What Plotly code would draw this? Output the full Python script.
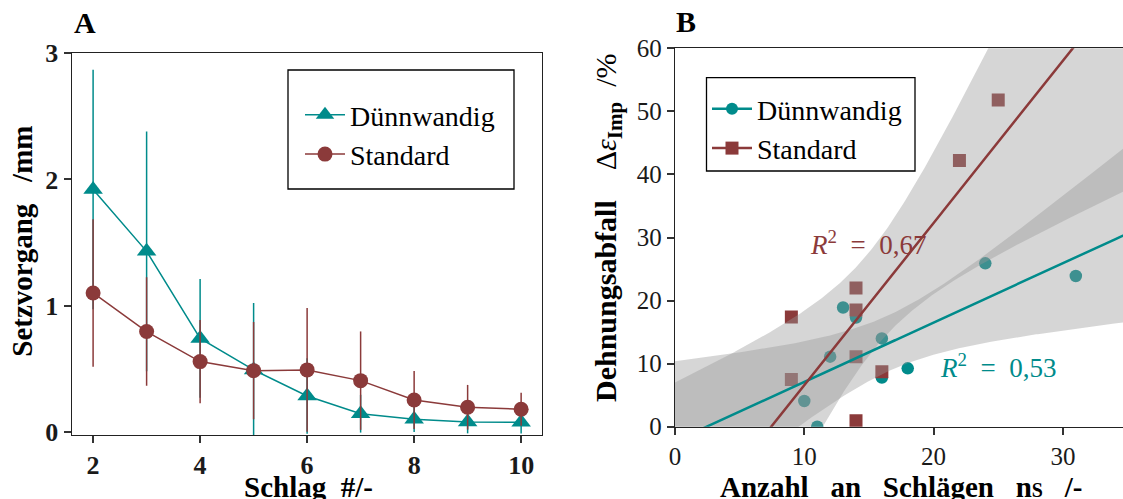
import numpy as np
import plotly.graph_objects as go

# ---------------- data ----------------
schlag = [2, 3, 4, 5, 6, 7, 8, 9, 10]
duenn_mean = [1.92, 1.43, 0.74, 0.49, 0.283, 0.143, 0.098, 0.077, 0.075]
duenn_sd = [0.95, 0.95, 0.47, 0.53, 0.30, 0.15, 0.10, 0.09, 0.09]
std_mean = [1.10, 0.794, 0.556, 0.484, 0.49, 0.405, 0.252, 0.194, 0.178]
std_sd = [0.585, 0.43, 0.33, 0.385, 0.49, 0.39, 0.23, 0.177, 0.13]

duenn_n = [10, 11, 12, 13, 14, 16, 16, 18, 24, 31]
duenn_d = [4.07, 0.0, 11.1, 18.9, 17.3, 14.0, 7.8, 9.25, 25.9, 23.9]
std_n = [9, 9, 14, 14, 14, 14, 16, 22, 25]
std_d = [17.4, 7.5, 22.0, 18.5, 11.1, 0.95, 8.7, 42.2, 51.8]

series_names = ["Dünnwandig", "Standard"]
ticks_a_x = [2, 4, 6, 8, 10]
ticks_a_y = [0, 1, 2, 3]
ticks_b_x = [0, 10, 20, 30]
ticks_b_y = [0, 10, 20, 30, 40, 50, 60]

# Student t quantiles (0.975) for df = n-2
T_DUENN = 2.306004
T_STD = 2.364624

TEAL = "#008B8B"
RED = "#8B3A3A"
BAND = "rgba(153,153,153,0.4)"
FONT = "Liberation Serif, Times New Roman, serif"
W, H = 1123, 499


def px_x(p):
    return p / W


def px_y(p):
    return 1 - p / H


def fit(x, y, t):
    x = np.asarray(x, float)
    y = np.asarray(y, float)
    b, a = np.polyfit(x, y, 1)
    n = len(x)
    xm = x.mean()
    res = y - (a + b * x)
    s = np.sqrt((res ** 2).sum() / (n - 2))
    sxx = ((x - xm) ** 2).sum()
    xg = np.linspace(0, 36, 300)
    yg = a + b * xg
    hw = t * s * np.sqrt(1 / n + (xg - xm) ** 2 / sxx)
    r2 = 1 - (res ** 2).sum() / ((y - y.mean()) ** 2).sum()
    return xg, yg, yg - hw, yg + hw, r2


fig = go.Figure()

# ---------------- panel A ----------------
fig.add_trace(go.Scatter(
    x=schlag, y=duenn_mean, mode="lines+markers", name=series_names[0],
    line=dict(color=TEAL, width=1.5),
    marker=dict(symbol="triangle-up", size=17, color=TEAL),
    error_y=dict(type="data", array=duenn_sd, color=TEAL, thickness=1.5, width=0),
    xaxis="x", yaxis="y", legend="legend", cliponaxis=False,
))
fig.add_trace(go.Scatter(
    x=schlag, y=std_mean, mode="lines+markers", name=series_names[1],
    line=dict(color=RED, width=1.5),
    marker=dict(symbol="circle", size=15, color=RED),
    error_y=dict(type="data", array=std_sd, color=RED, thickness=1.5, width=0),
    xaxis="x", yaxis="y", legend="legend", cliponaxis=False,
))

# ---------------- panel B ----------------
fig.add_trace(go.Scatter(
    x=duenn_n, y=duenn_d, mode="markers", showlegend=False,
    marker=dict(symbol="circle", size=12.5, color=TEAL),
    xaxis="x2", yaxis="y2",
))
fig.add_trace(go.Scatter(
    x=std_n, y=std_d, mode="markers", showlegend=False,
    marker=dict(symbol="square", size=13, color=RED),
    xaxis="x2", yaxis="y2",
))

fits = [fit(duenn_n, duenn_d, T_DUENN), fit(std_n, std_d, T_STD)]
for (xg, yg, lo, hi, r2) in fits:
    fig.add_trace(go.Scatter(x=xg, y=lo, mode="lines", line=dict(width=0),
                             showlegend=False, hoverinfo="skip",
                             xaxis="x2", yaxis="y2"))
    fig.add_trace(go.Scatter(x=xg, y=hi, mode="lines", line=dict(width=0),
                             fill="tonexty", fillcolor=BAND, showlegend=False,
                             hoverinfo="skip", xaxis="x2", yaxis="y2"))
for (xg, yg, lo, hi, r2), col in zip(fits, [TEAL, RED]):
    fig.add_trace(go.Scatter(x=xg, y=yg, mode="lines", line=dict(color=col, width=2.5),
                             showlegend=False, xaxis="x2", yaxis="y2"))

# legend-only entries for panel B
fig.add_trace(go.Scatter(x=[None], y=[None], mode="lines+markers", name=series_names[0],
                         line=dict(color=TEAL, width=2.5),
                         marker=dict(symbol="circle", size=12, color=TEAL),
                         xaxis="x2", yaxis="y2", legend="legend2"))
fig.add_trace(go.Scatter(x=[None], y=[None], mode="lines+markers", name=series_names[1],
                         line=dict(color=RED, width=2.5),
                         marker=dict(symbol="square", size=13, color=RED),
                         xaxis="x2", yaxis="y2", legend="legend2"))

axis_common = dict(showgrid=False, zeroline=False, showline=True, linecolor="#222",
                   linewidth=1.4, ticks="outside", ticklen=7, tickwidth=2,
                   tickcolor="#333", automargin=False)

legend_common = dict(xanchor="left", yanchor="top", bgcolor="rgba(0,0,0,0)",
                     borderwidth=0, traceorder="normal", itemwidth=40,
                     font=dict(family=FONT, size=28, color="black"))

fig.update_layout(
    width=W, height=H, autosize=False,
    margin=dict(l=0, r=0, t=0, b=0, pad=0),
    paper_bgcolor="white", plot_bgcolor="white",
    font=dict(family=FONT, color="black"),
    xaxis=dict(domain=[px_x(71.7), px_x(542)], range=[1.6, 10.39], tickvals=ticks_a_x,
               mirror=True, anchor="y",
               tickfont=dict(family=FONT, size=26, weight="bold", color="#1a1a1a"),
               **axis_common),
    yaxis=dict(domain=[px_y(435), px_y(53.3)], range=[-0.026, 3.0], tickvals=ticks_a_y,
               mirror=True, anchor="x",
               tickfont=dict(family=FONT, size=26, weight="bold", color="#1a1a1a"),
               **axis_common),
    xaxis2=dict(domain=[px_x(675), 1.0], range=[0, 34.65], tickvals=ticks_b_x,
                mirror=True, anchor="y2",
                tickfont=dict(family=FONT, size=25, color="#1a1a1a"),
                **axis_common),
    yaxis2=dict(domain=[px_y(426.7), px_y(48.3)], range=[0, 60], tickvals=ticks_b_y,
                anchor="x2",
                tickfont=dict(family=FONT, size=25, color="#1a1a1a"),
                **axis_common),
    legend=dict(x=px_x(300), y=px_y(90), **legend_common),
    legend2=dict(x=px_x(707), y=px_y(84), **legend_common),
)

# legend frames
for (x0, y0, x1, y1) in [(288, 70, 514, 189), (706.5, 77.7, 915, 171)]:
    fig.add_shape(type="rect", xref="paper", yref="paper",
                  x0=px_x(x0), x1=px_x(x1), y0=px_y(y1), y1=px_y(y0),
                  line=dict(color="black", width=1.3), fillcolor="white", layer="above")

r2_duenn = f"{fits[0][4]:.2f}".replace(".", ",")
r2_std = f"{fits[1][4]:.2f}".replace(".", ",")
NB = "\u00a0"
SUB_S = '<span style="font-size:20px">S</span>'

annots = [
    dict(text="<b>A</b>", x=px_x(85), y=px_y(22), size=30, color="black"),
    dict(text="<b>B</b>", x=px_x(686), y=px_y(21), size=30, color="black"),
    dict(text=f"<b>Schlag{NB}{NB}#/-</b>", x=px_x(308), y=px_y(487), size=29, color="black"),
    dict(text=f"<b>Setzvorgang{NB}{NB}{NB}/mm</b>", x=px_x(22), y=px_y(241.7), size=29,
         color="black", angle=-90),
    dict(text=(f"<b>Anzahl{NB}{NB}{NB}an{NB}{NB}{NB}Schlägen{NB}{NB}{NB}n{SUB_S}"
               f"{NB}{NB}{NB}/-</b>"),
         x=px_x(901), y=px_y(487), size=29, color="black"),
    dict(text=(f"<b>Dehnungsabfall</b>{NB}{NB}{NB}{NB}Δ<i>ε</i><sub><b>Imp</b></sub>"
               f"{NB}{NB}/%"),
         x=px_x(608), y=px_y(228), size=30, color="black", angle=-90),
    dict(text=f"<i>R</i><sup>2</sup>{NB}{NB}={NB}{NB}{r2_std}", x=px_x(868), y=px_y(243),
         size=27, color=RED),
    dict(text=f"<i>R</i><sup>2</sup>{NB}{NB}={NB}{NB}{r2_duenn}", x=px_x(998), y=px_y(366),
         size=27, color=TEAL),
]
for a in annots:
    fig.add_annotation(text=a["text"], x=a["x"], y=a["y"], xref="paper", yref="paper",
                       xanchor="center", yanchor="middle", showarrow=False,
                       textangle=a.get("angle", 0),
                       font=dict(family=FONT, size=a["size"], color=a["color"]))

fig.write_html("out.html")
